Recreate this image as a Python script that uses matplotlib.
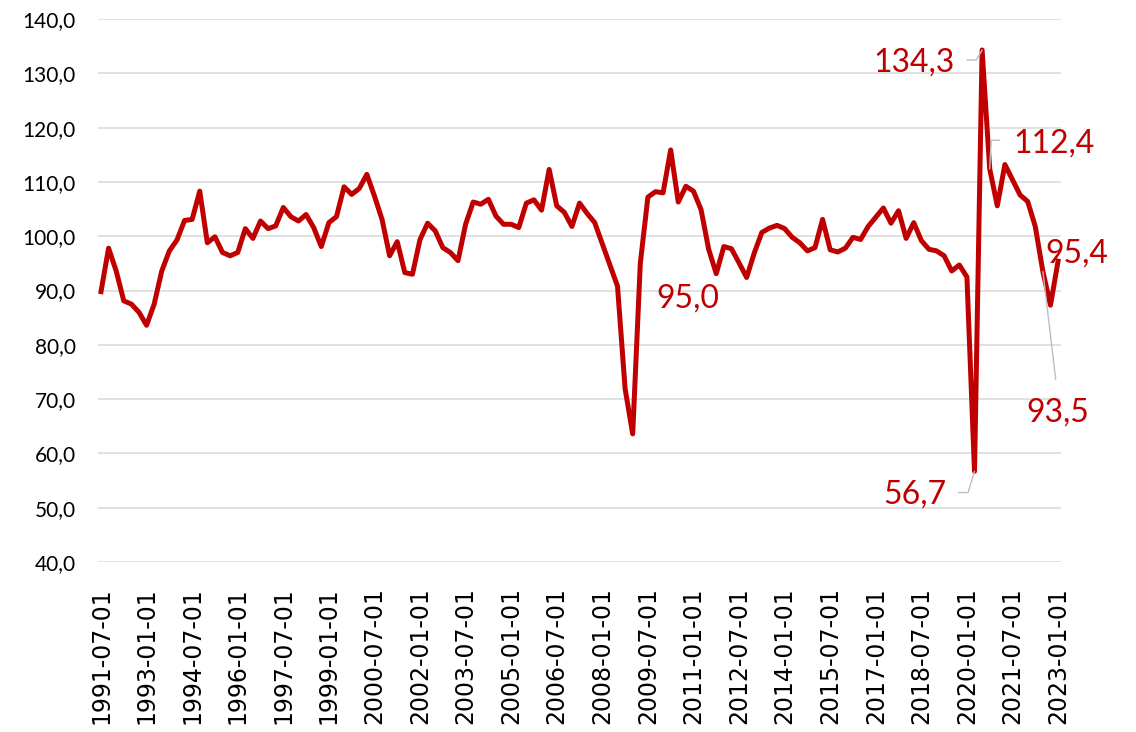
import matplotlib
matplotlib.use("Agg")
import matplotlib.pyplot as plt
import pandas as pd

plt.rcParams['font.family'] = ['Lato', 'DejaVu Sans']

# serie trimestral a partir de 1991-07-01
inicio = '1991-07-01'
valores = [
    89.8, 97.8, 93.6, 88.1, 87.5, 86.0, 83.6, 87.5, 93.6, 97.3,
    99.3, 102.9, 103.1, 108.3, 98.8, 99.9, 97.0, 96.4, 97.0, 101.4,
    99.6, 102.8, 101.4, 101.9, 105.3, 103.6, 102.8, 104.0, 101.6, 98.1,
    102.5, 103.6, 109.1, 107.7, 108.8, 111.4, 107.4, 103.1, 96.4, 99.0,
    93.3, 93.0, 99.4, 102.4, 101.0, 97.9, 97.0, 95.5, 102.2, 106.3,
    105.9, 106.8, 103.7, 102.2, 102.2, 101.6, 106.1, 106.7, 104.8, 112.3,
    105.6, 104.4, 101.8, 106.1, 104.2, 102.5, 98.6, 94.7, 90.8, 71.9,
    63.6, 95.0, 107.2, 108.2, 108.0, 115.9, 106.3, 109.2, 108.3, 104.9,
    97.6, 93.1, 98.1, 97.7, 95.1, 92.4, 96.9, 100.7, 101.5, 102.0,
    101.4, 99.8, 98.8, 97.3, 97.9, 103.1, 97.5, 97.1, 97.8, 99.8,
    99.4, 101.8, 103.5, 105.2, 102.4, 104.7, 99.6, 102.5, 99.2, 97.6,
    97.3, 96.4, 93.6, 94.7, 92.5, 56.7, 134.3, 112.4, 105.6, 113.2,
    110.4, 107.6, 106.4, 101.8, 93.5, 87.3, 95.4,
]
datas = pd.date_range(inicio, periods=len(valores), freq='QS-JAN').strftime('%Y-%m-%d')

# pontos com rotulo
rotulos_idx = [71, 115, 116, 117, 124, 126]

x = list(range(len(valores)))

fig = plt.figure(figsize=(11.36, 7.32), dpi=100)
ax = fig.add_axes([0.0863, 0.2322, 0.8477, 0.7418])

vermelho = '#C00000'
ax.plot(x, valores, color=vermelho, lw=3.6, solid_joinstyle='round', zorder=3)

ax.set_xlim(-0.39, len(valores) - 1 + 0.39)
ax.set_ylim(40, 140)
ax.set_yticks(range(40, 141, 10))
ax.set_yticklabels([f"{v:.1f}".replace('.', ',') for v in range(40, 141, 10)])
ax.tick_params(axis='y', length=0, pad=16, labelsize=15, colors='black')

pos = list(range(0, len(valores), 6))
ax.set_xticks(pos)
ax.set_xticklabels([datas[i] for i in pos], rotation=90, fontfamily='DejaVu Sans',
                   fontsize=17)
ax.tick_params(axis='x', length=0, pad=18, colors='black')

ax.grid(axis='y', color='#D9D9D9', lw=1.1)
ax.set_axisbelow(True)
for s in ax.spines.values():
    s.set_visible(False)

# deslocamento (px), alinhamento e linha de chamada de cada rotulo
estilo = {
    71: dict(off=(16, -44), ha='left', seta=None),
    115: dict(off=(-28, -32), ha='right',
              seta=dict(relpos=(1, 0.56), shrinkA=6.5,
                        connectionstyle='angle,angleA=0,angleB=73,rad=0')),
    116: dict(off=(-27, -22), ha='right',
              seta=dict(relpos=(1, 0.6), shrinkA=6.5,
                        connectionstyle='angle,angleA=0,angleB=60,rad=0')),
    117: dict(off=(24, 16), ha='left',
              seta=dict(relpos=(0, 0.62), shrinkA=8,
                        connectionstyle='angle,angleA=0,angleB=87,rad=0')),
    124: dict(off=(15, -150), ha='center',
              seta=dict(relpos=(0.5, 1), shrinkA=11, connectionstyle='arc3')),
    126: dict(off=(-13, -1), ha='left', seta=None),
}
for i in rotulos_idx:
    e = estilo[i]
    props = None
    if e['seta'] is not None:
        props = dict(arrowstyle='-', color='#BFBFBF', lw=1, shrinkB=0, **e['seta'])
    ax.annotate(f"{valores[i]:.1f}".replace('.', ','), xy=(i, valores[i]),
                xytext=e['off'], textcoords='offset pixels', ha=e['ha'],
                va='baseline', fontsize=23, color=vermelho, arrowprops=props,
                zorder=4)

fig.savefig('out.png', dpi=100)
